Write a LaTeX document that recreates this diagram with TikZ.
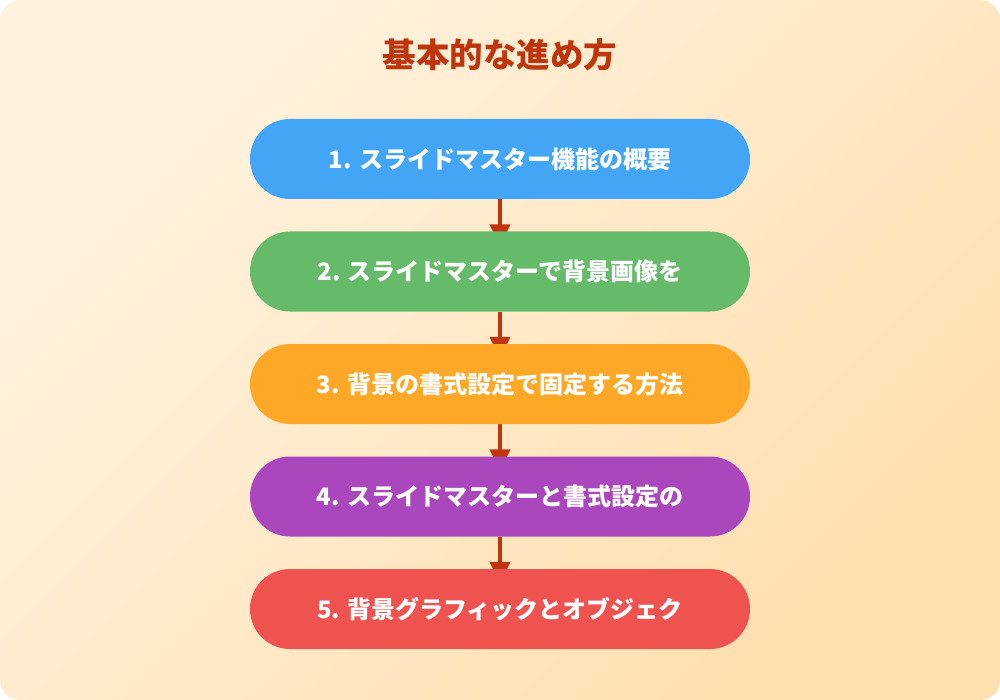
\documentclass[tikz,border=0pt]{standalone}
\usepackage{fontspec}
\setmainfont{Noto Sans CJK JP}
\usetikzlibrary{arrows.meta,backgrounds}
\definecolor{bgA}{HTML}{FFF3E0}
\definecolor{bgB}{HTML}{FFDFAF}
\definecolor{titlec}{HTML}{BF360C}
\definecolor{arrowc}{HTML}{BF360C}
\definecolor{cone}{HTML}{42A5F5}
\definecolor{ctwo}{HTML}{66BB6A}
\definecolor{cthree}{HTML}{FFA726}
\definecolor{cfour}{HTML}{AB47BC}
\definecolor{cfive}{HTML}{EF5350}
\tikzset{
  stepbox/.style={rounded corners=40pt, minimum width=500pt, minimum height=80pt, inner sep=0pt,
    text=white, font=\bfseries\fontsize{24}{29}\selectfont},
  flowarrow/.style={draw=arrowc, line width=4pt, -{Triangle[width=20pt,length=22pt]}},
  titletext/.style={text=titlec, font=\bfseries\fontsize{33.5}{40}\selectfont}
}
\begin{document}
\begin{tikzpicture}[x=1pt,y=-1pt]
\useasboundingbox (0,0) rectangle (1000,700);
\begin{scope}[on background layer]
\shade[rounded corners=20pt, top color=bgA, bottom color=bgB, shading angle=45] (0,0) rectangle (1000,700);
\end{scope}
\node[titletext] (title) at (500,55) {基本的な進め方};
\node[stepbox, fill=cone] (s1) at (500,159) {1. スライドマスター機能の概要};
\node[stepbox, fill=ctwo] (s2) at (500,271.5) {2. スライドマスターで背景画像を};
\node[stepbox, fill=cthree] (s3) at (500,384) {3. 背景の書式設定で固定する方法};
\node[stepbox, fill=cfour] (s4) at (500,496.5) {4. スライドマスターと書式設定の};
\node[stepbox, fill=cfive] (s5) at (500,609) {5. 背景グラフィックとオブジェク};
\begin{scope}[on background layer]
\draw[flowarrow] (s1.south) -- ([yshift=-15pt]s2.north);
\draw[flowarrow] (s2.south) -- ([yshift=-15pt]s3.north);
\draw[flowarrow] (s3.south) -- ([yshift=-15pt]s4.north);
\draw[flowarrow] (s4.south) -- ([yshift=-15pt]s5.north);
\end{scope}
\end{tikzpicture}
\end{document}
